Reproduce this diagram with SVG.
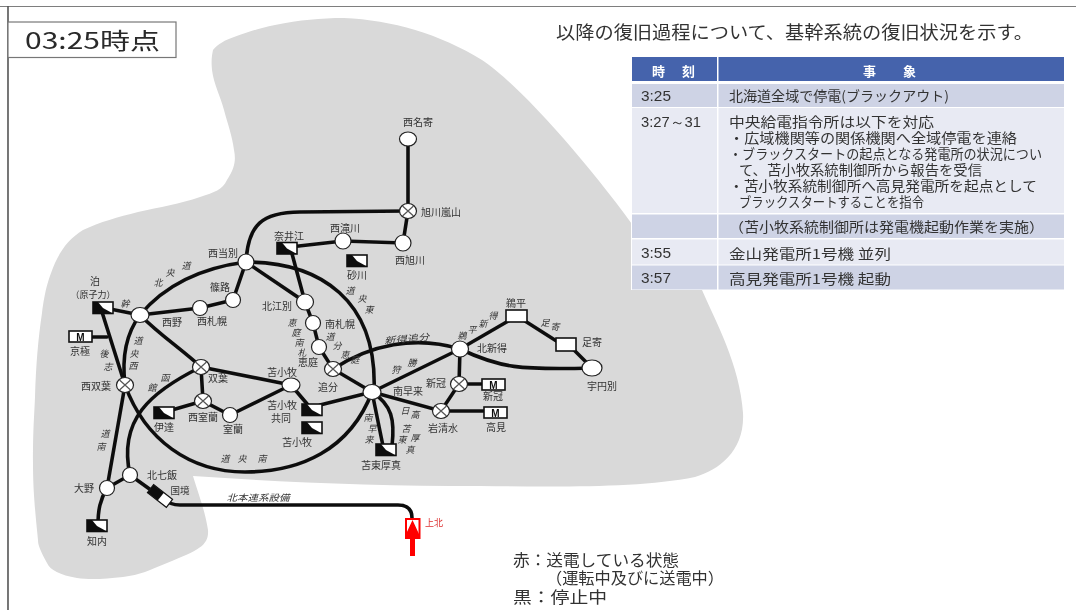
<svg xmlns="http://www.w3.org/2000/svg" xmlns:xlink="http://www.w3.org/1999/xlink" width="1076" height="610" viewBox="0 0 1076 610">
<style>
text{font-family:"Noto Sans CJK JP","Noto Sans",sans-serif;fill:#2a2a2a}
.n{font-size:10px;text-anchor:middle;fill:#333}
.l{font-size:9px;text-anchor:middle;font-style:italic;fill:#333}
.t{font-size:13.5px;fill:#333}
.h{font-size:13px;fill:#fff;font-weight:700}
.c{fill:none;stroke:#111;stroke-width:3.6;stroke-linecap:round}
.o{fill:#fff;stroke:#222;stroke-width:1.2}
.x{stroke:#555;stroke-width:1.2;fill:none}
.b{fill:#fff;stroke:#111;stroke-width:1.6}
.lg{font-size:16px;fill:#333}
</style>
<defs>
<filter id="soft" x="0" y="0" width="100%" height="100%"><feGaussianBlur stdDeviation="0.45"/></filter>
<g id="gen"><rect class="b" x="0" y="0" width="20" height="11.5"/><polygon points="0,0 0,11.5 20,11.5 10,6 5,0" fill="#111"/></g>
<g id="mm"><rect class="b" x="0" y="0" width="23" height="11"/><text x="11.5" y="9.5" style="font-size:10px;font-weight:700;text-anchor:middle;font-family:'Liberation Sans',sans-serif;fill:#111">M</text></g>
<g id="xn"><ellipse class="o" rx="8.5" ry="7.5"/><path class="x" d="M-5.5,-5 L5.5,5 M-5.5,5 L5.5,-5"/></g>
</defs>
<rect width="1076" height="610" fill="#fff"/>
<g filter="url(#soft)">
<path id="land" fill="#d9d9d9" d="M344,18 C392,20 440,34 482,60 C520,85 590,165 640,235 L702,290 C715,320 740,365 743,413 C745,450 720,470 695,477 C640,488 560,487 480,486 C380,486 280,482 193,476 C197,490 205,510 208,530 C209,545 200,550 167,563 C150,570 140,575 123,577 C105,579 90,580 77,578 C60,575 50,570 47,563 C40,550 38,545 38,540 C35,510 33,490 33,463 C33,430 34,420 35,397 C36,365 38,340 42,313 C45,290 48,280 55,263 C62,248 70,238 83,230 C100,222 118,217 138,212 C160,207 180,204 200,197 C215,192 222,190 227,180 C235,168 236,160 234,150 C232,135 228,125 224,110 C220,95 214,85 212,70 C211,60 212,55 213,50 C218,44 225,40 234,37 C248,32 260,28 275,25 C300,20 320,18 344,18 Z"/>
<path d="M0,6 H1076 M8,6 V610" fill="none" stroke="#555" stroke-width="1.6"/>
<g id="time-label"><rect x="8" y="22" width="168" height="35.500" fill="#fff" stroke="#777" stroke-width="1.2"/><text x="25" y="49" style="font-size:23px" textLength="135" lengthAdjust="spacingAndGlyphs">03:25時点</text></g>
<text x="556" y="39" style="font-size:18px;fill:#333" textLength="477" lengthAdjust="spacingAndGlyphs">以降の復旧過程について、基幹系統の復旧状況を示す。</text>
<g id="table">
<rect x="631" y="56" width="434" height="234" fill="#fff"/>
<rect x="632" y="57" width="85" height="24" fill="#4464ac"/><rect x="718.500" y="57" width="345.500" height="24" fill="#4464ac"/>
<rect x="632" y="84" width="85" height="23" fill="#ced3e5"/><rect x="718.500" y="84" width="345.500" height="23" fill="#ced3e5"/>
<rect x="632" y="108" width="85" height="105" fill="#e8eaf3"/><rect x="718.500" y="108" width="345.500" height="105" fill="#e8eaf3"/>
<rect x="632" y="214.500" width="85" height="23.500" fill="#ced3e5"/><rect x="718.500" y="214.500" width="345.500" height="23.500" fill="#ced3e5"/>
<rect x="632" y="239.500" width="85" height="25" fill="#e8eaf3"/><rect x="718.500" y="239.500" width="345.500" height="25" fill="#e8eaf3"/>
<rect x="632" y="265.500" width="85" height="24" fill="#ced3e5"/><rect x="718.500" y="265.500" width="345.500" height="24" fill="#ced3e5"/>
<text class="h" x="652" y="76" textLength="43">時 刻</text><text class="h" x="863" y="76" textLength="53">事　象</text>
<text class="t" x="641" y="101" style="font-family:'Liberation Sans',sans-serif;font-size:14px" textLength="30" lengthAdjust="spacingAndGlyphs">3:25</text>
<text class="t" x="641" y="127" style="font-family:'Liberation Sans',sans-serif;font-size:14px" textLength="60" lengthAdjust="spacingAndGlyphs">3:27～31</text>
<text class="t" x="641" y="258" style="font-family:'Liberation Sans',sans-serif;font-size:14px" textLength="30" lengthAdjust="spacingAndGlyphs">3:55</text>
<text class="t" x="641" y="283" style="font-family:'Liberation Sans',sans-serif;font-size:14px" textLength="30" lengthAdjust="spacingAndGlyphs">3:57</text>
<text class="t" x="729" y="101" textLength="220" lengthAdjust="spacingAndGlyphs">北海道全域で停電(ブラックアウト)</text>
<text class="t" x="729" y="127" textLength="205" lengthAdjust="spacingAndGlyphs">中央給電指令所は以下を対応</text>
<text class="t" x="729" y="143" textLength="288" lengthAdjust="spacingAndGlyphs">・広域機関等の関係機関へ全域停電を連絡</text>
<text class="t" x="729" y="159" textLength="313" lengthAdjust="spacingAndGlyphs">・ブラックスタートの起点となる発電所の状況につい</text>
<text class="t" x="739" y="175" textLength="243" lengthAdjust="spacingAndGlyphs">て、苫小牧系統制御所から報告を受信</text>
<text class="t" x="729" y="191" textLength="308" lengthAdjust="spacingAndGlyphs">・苫小牧系統制御所へ高見発電所を起点として</text>
<text class="t" x="739" y="207" textLength="185" lengthAdjust="spacingAndGlyphs">ブラックスタートすることを指令</text>
<text class="t" x="729" y="232" textLength="315" lengthAdjust="spacingAndGlyphs">（苫小牧系統制御所は発電機起動作業を実施）</text>
<text class="t" x="729" y="259" textLength="162" lengthAdjust="spacingAndGlyphs">金山発電所1号機 並列</text>
<text class="t" x="729" y="284" textLength="162" lengthAdjust="spacingAndGlyphs">高見発電所1号機 起動</text>
</g>
<g id="connectors">
<path class="c" d="M408,139 V211"/>
<path class="c" d="M408,211 L300,212 C262,212 248,225 246,262"/>
<path class="c" d="M408,211 L403,243 L343,241 L290,247"/>
<path class="c" d="M291,250 L305,302"/>
<path class="c" d="M246,262 L305,302 L313,323 L319,347 L333,369 L372,392"/>
<path class="c" d="M246,262 C320,262 378,300 374,392"/>
<path class="c" d="M246,262 L233,300 L200,308 L140,315"/>
<path class="c" d="M246,262 C200,268 165,285 140,315"/>
<path class="c" d="M110,309 L140,315"/>
<path class="c" d="M140,315 C125,335 122,360 125,385"/>
<path class="c" d="M140,315 C160,335 180,348 201,367"/>
<path class="c" d="M102,312 L125,385"/>
<path class="c" d="M92,337 H107"/>
<path class="c" d="M125,385 L107,488"/>
<path class="c" d="M107,488 L130,475"/>
<path class="c" d="M107,488 C100,500 98,510 98,525"/>
<path class="c" d="M125,385 C145,440 190,472 245,472 C300,472 350,450 372,392"/>
<path class="c" d="M201,367 C150,392 118,420 130,475"/>
<path class="c" d="M130,475 L162,498 Q170,505 180,505 L398,505 Q412,505 412,518"/>
<path class="c" d="M201,367 L291,385"/>
<path class="c" d="M201,367 L203,401 L230,415 L291,385"/>
<path class="c" d="M165,412 L203,401"/>
<path class="c" d="M291,385 L308,405"/>
<path class="c" d="M320,405 L372,392"/>
<path class="c" d="M333,369 C370,345 415,335 460,349"/>
<path class="c" d="M372,392 L460,349"/>
<path class="c" d="M372,392 L383,446"/>
<path class="c" d="M372,392 C392,405 395,420 392,446"/>
<path class="c" d="M372,392 L441,411 L459,384 L460,349"/>
<path class="c" d="M459,384 H484"/>
<path class="c" d="M441,411 H486"/>
<path class="c" d="M460,349 L510,320 M525,321 L558,342 M574,350 L592,368"/>
<path class="c" d="M460,349 C500,368 520,370 592,368"/>
</g>
<g id="line-labels">
<text class="l" x="186" y="269">道</text><text class="l" x="170" y="276">央</text><text class="l" x="158" y="286">北</text>
<text class="l" x="125" y="307">幹</text>
<text class="l" x="138" y="344">道</text><text class="l" x="134" y="357">央</text><text class="l" x="133" y="369">西</text>
<text class="l" x="104" y="357">後</text><text class="l" x="108" y="370">志</text>
<text class="l" x="165" y="381">函</text><text class="l" x="152" y="391">館</text>
<text class="l" x="105" y="437">道</text><text class="l" x="101" y="450">南</text>
<text class="l" x="225" y="462">道</text><text class="l" x="242" y="462">央</text><text class="l" x="262" y="462">南</text>
<text class="l" x="258" y="501" style="font-size:9px" textLength="63" lengthAdjust="spacingAndGlyphs">北本連系設備</text>
<text class="l" x="350" y="294">道</text><text class="l" x="362" y="302">央</text><text class="l" x="369" y="313">東</text>
<text class="l" x="292" y="326">恵</text><text class="l" x="296" y="336">庭</text><text class="l" x="299" y="346">南</text><text class="l" x="302" y="356">札</text>
<text class="l" x="330" y="340">道</text><text class="l" x="337" y="349">分</text><text class="l" x="345" y="358">恵</text><text class="l" x="355" y="363">庭</text>
<text class="l" x="407" y="342" transform="rotate(-5 407 342)" textLength="45" lengthAdjust="spacingAndGlyphs">新得追分</text>
<text class="l" x="396" y="373">狩</text><text class="l" x="412" y="366">勝</text>
<text class="l" x="462" y="339">鵜</text><text class="l" x="472" y="333">平</text><text class="l" x="483" y="327">新</text><text class="l" x="493" y="319">得</text>
<text class="l" x="545" y="326">足</text><text class="l" x="555" y="330">寄</text>
<text class="l" x="405" y="414">日</text><text class="l" x="415" y="418">高</text>
<text class="l" x="368" y="421">南</text><text class="l" x="372" y="432">早</text><text class="l" x="369" y="443">来</text>
<text class="l" x="406" y="432">苫</text><text class="l" x="402" y="443">東</text><text class="l" x="415" y="441">厚</text><text class="l" x="410" y="453">真</text>
</g>
<g id="nishinayoro"><ellipse class="o" cx="408" cy="139" rx="8.500" ry="7"/><text class="n" x="418" y="126">西名寄</text></g>
<g id="asahikawa-arashiyama"><use xlink:href="#xn" href="#xn" x="408" y="211"/><text class="n" x="441" y="216">旭川嵐山</text></g>
<g id="nishiasahikawa"><circle class="o" cx="403" cy="243" r="8"/><text class="n" x="410" y="264">西旭川</text></g>
<g id="nishitakikawa"><circle class="o" cx="343" cy="241" r="8"/><text class="n" x="345" y="232">西滝川</text></g>
<g id="naie"><use xlink:href="#gen" href="#gen" x="277" y="242.500"/><text class="n" x="289" y="240">奈井江</text></g>
<g id="sunagawa"><use xlink:href="#gen" href="#gen" x="347" y="255"/><text class="n" x="357" y="279">砂川</text></g>
<g id="nishitobetsu"><circle class="o" cx="246" cy="262" r="8"/><text class="n" x="223" y="257">西当別</text></g>
<g id="kitaebetsu"><ellipse class="o" cx="305" cy="302" rx="8.500" ry="8"/><text class="n" x="277" y="310">北江別</text></g>
<g id="minamisapporo"><circle class="o" cx="313" cy="323" r="7.500"/><text class="n" x="340" y="328">南札幌</text></g>
<g id="eniwa"><circle class="o" cx="319" cy="347" r="7.500"/><text class="n" x="308" y="366">恵庭</text></g>
<g id="oiwake"><use xlink:href="#xn" href="#xn" x="333" y="369"/><text class="n" x="328" y="391">追分</text></g>
<g id="minamihayakita"><ellipse class="o" cx="372" cy="392" rx="9" ry="7.500"/><text class="n" x="408" y="395">南早来</text></g>
<g id="kitashintoku"><ellipse class="o" cx="460" cy="349" rx="8.500" ry="8"/><text class="n" x="492" y="352">北新得</text></g>
<g id="niikappu"><use xlink:href="#xn" href="#xn" x="459" y="384"/><text class="n" x="436" y="387">新冠</text></g>
<g id="iwashimizu"><use xlink:href="#xn" href="#xn" x="441" y="411"/><text class="n" x="443" y="432">岩清水</text></g>
<g id="niikappu-ps"><use xlink:href="#mm" href="#mm" x="482" y="379"/><text class="n" x="493" y="400">新冠</text></g>
<g id="takami-ps"><use xlink:href="#mm" href="#mm" x="484" y="407"/><text class="n" x="496" y="431">高見</text></g>
<g id="ushihira"><rect class="b" x="506" y="310" width="21" height="12"/><text class="n" x="516" y="307">鵜平</text></g>
<g id="ashoro"><rect class="b" x="556" y="338" width="20" height="13"/><text class="n" x="592" y="346">足寄</text></g>
<g id="uenbetsu"><ellipse class="o" cx="592" cy="368" rx="10" ry="8"/><text class="n" x="602" y="390">宇円別</text></g>
<g id="tomato-atsuma"><use xlink:href="#gen" href="#gen" x="376" y="444"/><text class="n" x="381" y="469">苫東厚真</text></g>
<g id="tomakomai-node"><ellipse class="o" cx="291" cy="385" rx="9" ry="7"/><text class="n" x="282" y="376">苫小牧</text></g>
<g id="tomakomai-kyodo"><use xlink:href="#gen" href="#gen" x="302" y="404"/><text class="n" x="282" y="409">苫小牧</text><text class="n" x="281" y="422">共同</text></g>
<g id="tomakomai-ps"><use xlink:href="#gen" href="#gen" x="302" y="422"/><text class="n" x="297" y="446">苫小牧</text></g>
<g id="muroran"><circle class="o" cx="230" cy="415" r="7.500"/><text class="n" x="233" y="433">室蘭</text></g>
<g id="nishimuroran"><use xlink:href="#xn" href="#xn" x="203" y="401"/><text class="n" x="203" y="421">西室蘭</text></g>
<g id="futaba"><use xlink:href="#xn" href="#xn" x="201" y="367"/><text class="n" x="218" y="382">双葉</text></g>
<g id="date"><use xlink:href="#gen" href="#gen" x="154" y="407"/><text class="n" x="164" y="431">伊達</text></g>
<g id="nishifutaba"><use xlink:href="#xn" href="#xn" x="125" y="385"/><text class="n" x="96" y="390">西双葉</text></g>
<g id="nishino"><ellipse class="o" cx="140" cy="315" rx="9" ry="7.500"/><text class="n" x="172" y="326">西野</text></g>
<g id="nishisapporo"><circle class="o" cx="200" cy="308" r="7.500"/><text class="n" x="212" y="325">西札幌</text></g>
<g id="shinoro"><circle class="o" cx="233" cy="300" r="7.500"/><text class="n" x="220" y="291">篠路</text></g>
<g id="tomari"><use xlink:href="#gen" href="#gen" x="93" y="302"/><text class="n" x="95" y="285">泊</text><text class="n" x="93" y="298" style="font-size:9px">（原子力）</text></g>
<g id="kyogoku"><use xlink:href="#mm" href="#mm" x="69" y="331"/><text class="n" x="80" y="355">京極</text></g>
<g id="ono"><circle class="o" cx="107" cy="488" r="7.500"/><text class="n" x="84" y="492">大野</text></g>
<g id="kitananae"><circle class="o" cx="130" cy="475" r="7.500"/><text class="n" x="162" y="479">北七飯</text></g>
<g id="shiriuchi"><use xlink:href="#gen" href="#gen" x="87" y="520"/><text class="n" x="97" y="545">知内</text></g>
<g id="kokkyo"><g transform="translate(160,496) rotate(38)"><rect x="-12" y="-5" width="24" height="10" fill="#fff" stroke="#111" stroke-width="1.2"/><rect x="-12" y="-5" width="13" height="10" fill="#111"/></g><text class="n" x="180" y="494" style="font-size:9.500px">国境</text></g>
<g id="kamikita">
<rect x="406" y="519" width="13.500" height="19" fill="#fff" stroke="#f00" stroke-width="2"/>
<path d="M412.500,520 L419,534 V538 H415 V556 H410 V538 H406 V534 Z" fill="#f00"/>
<text class="n" x="434" y="526" style="font-size:9px;fill:#d33">上北</text></g>
<g id="legend">
<text class="lg" x="513" y="566" textLength="166" lengthAdjust="spacingAndGlyphs">赤：送電している状態</text>
<text class="lg" x="546" y="584" textLength="178" lengthAdjust="spacingAndGlyphs">（運転中及びに送電中）</text>
<text class="lg" x="513" y="603" textLength="94" lengthAdjust="spacingAndGlyphs">黒：停止中</text>
</g>
</g>
</svg>
